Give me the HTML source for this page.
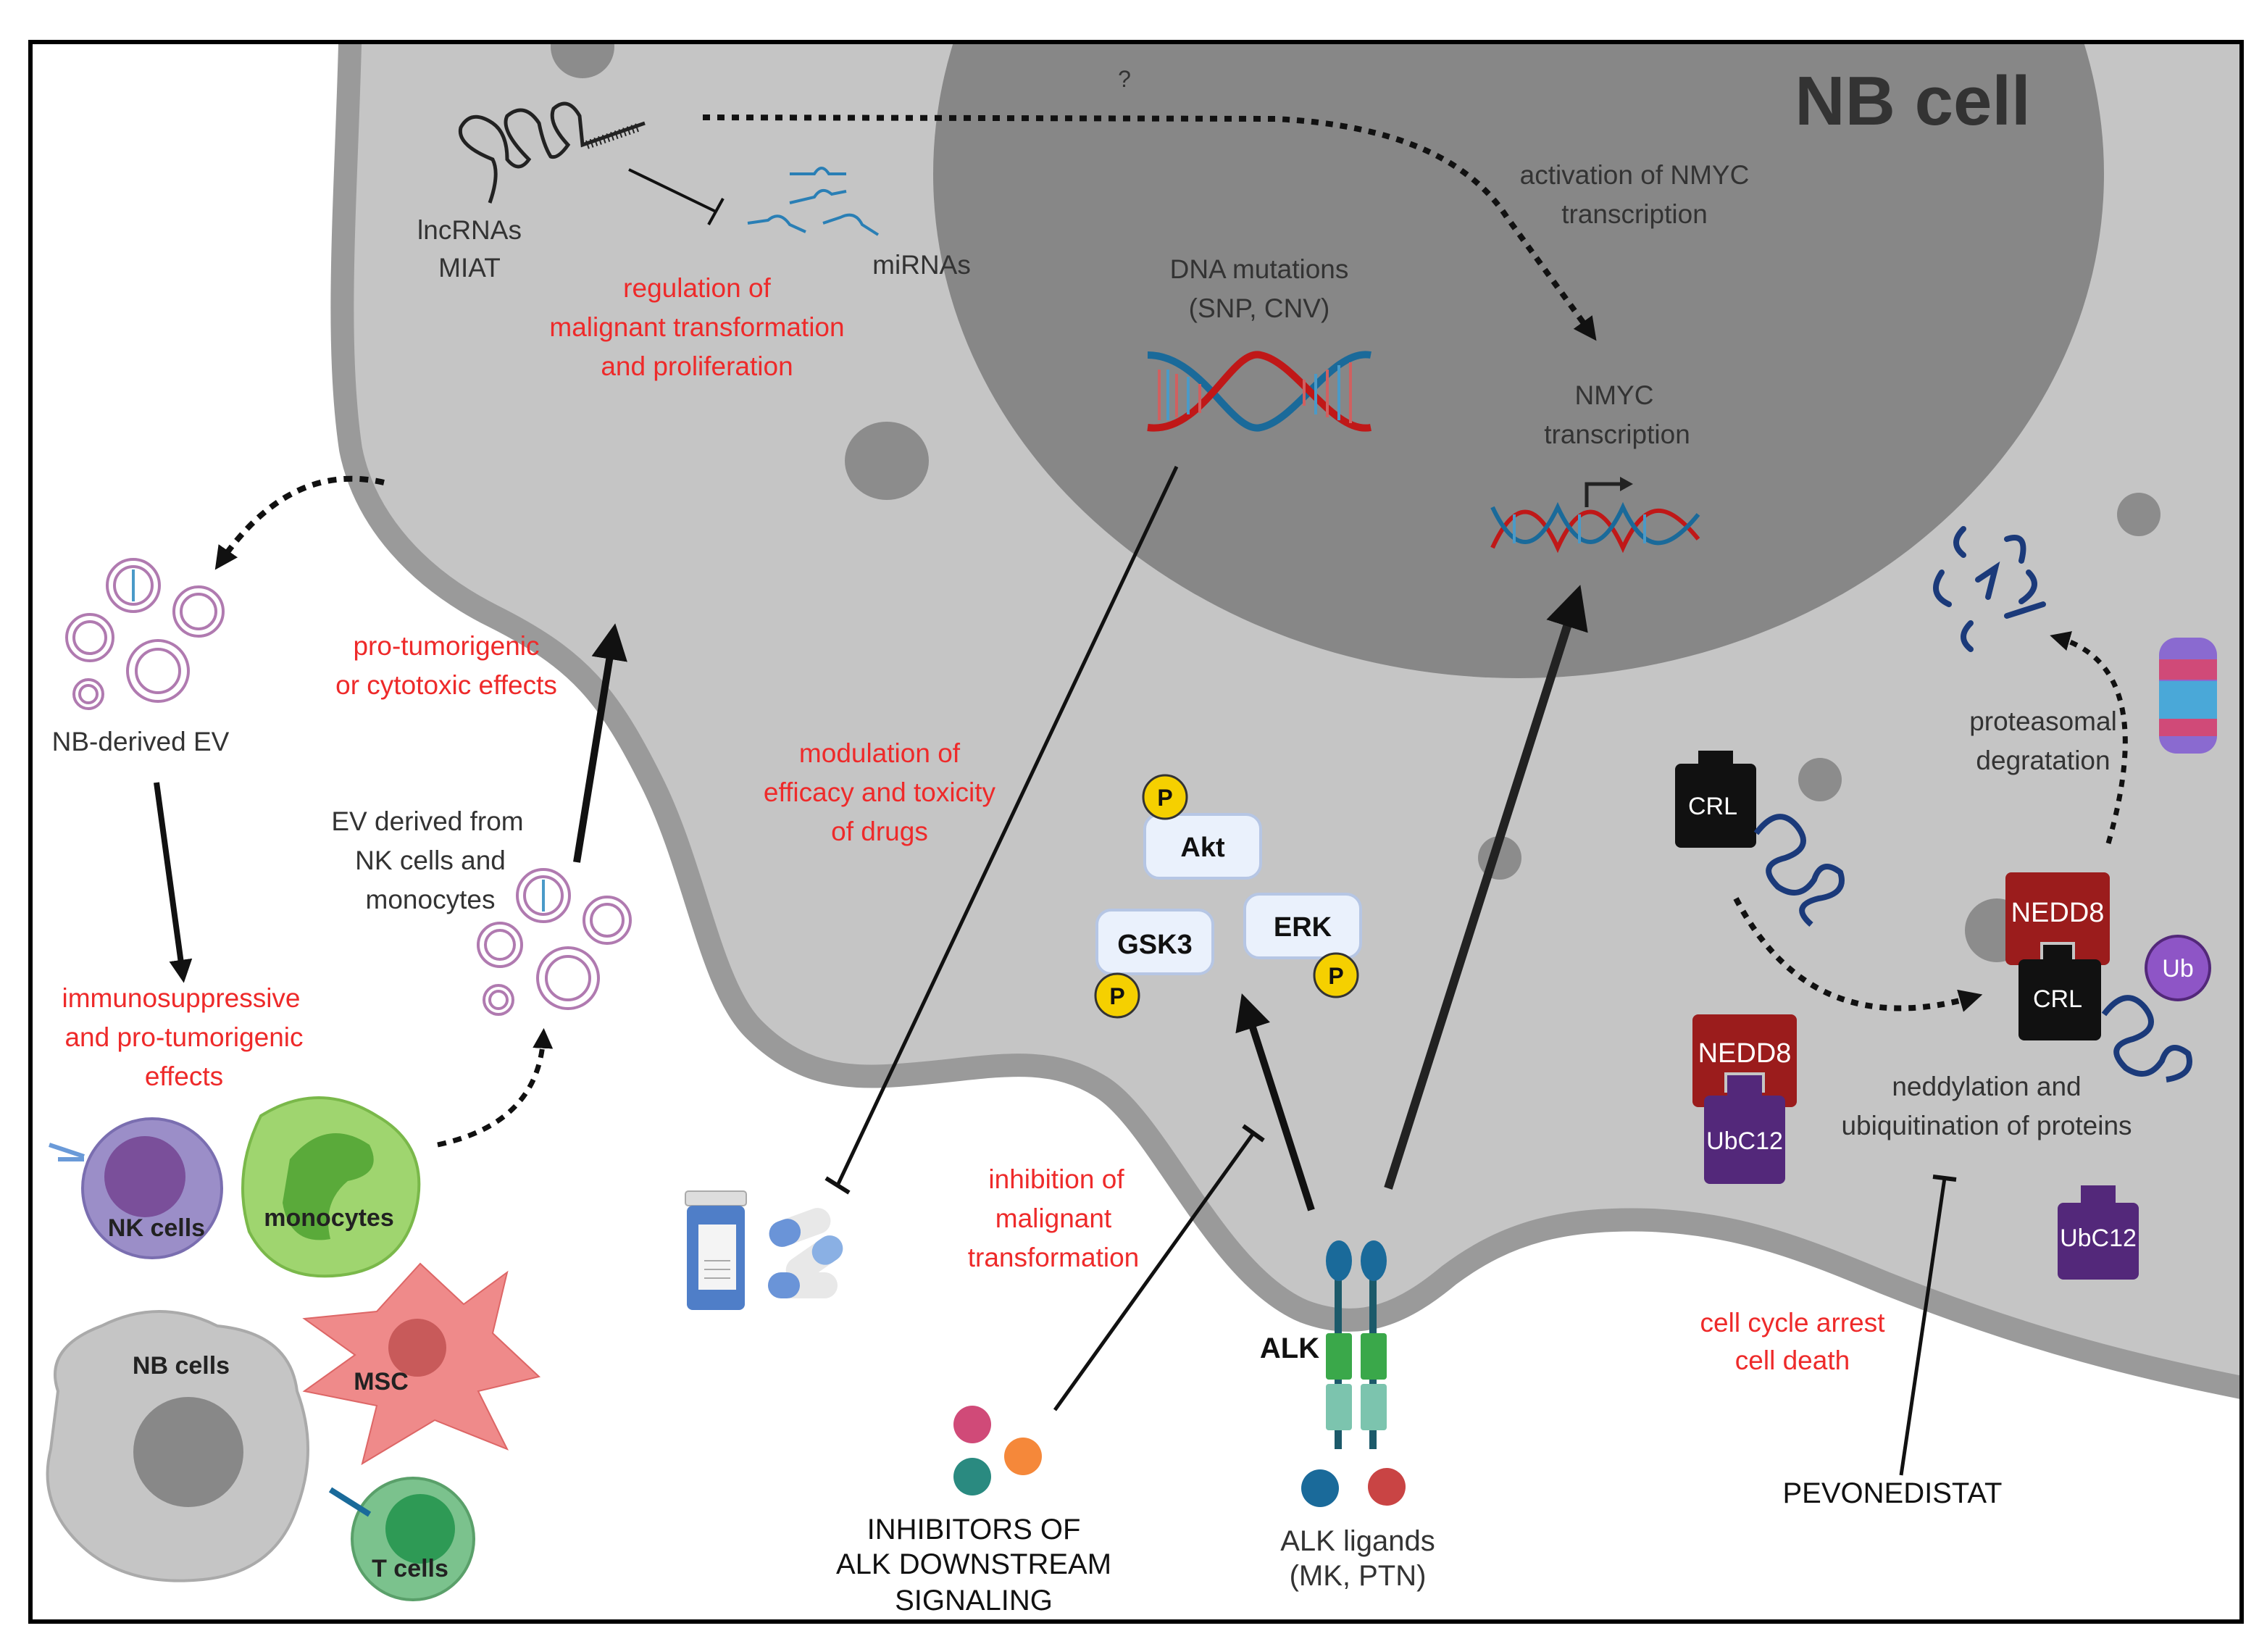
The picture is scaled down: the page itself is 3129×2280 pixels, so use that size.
<!DOCTYPE html>
<html><head><meta charset="utf-8"><style>
html,body{margin:0;padding:0;background:#fff;}
svg{display:block;}
text{font-family:"Liberation Sans",sans-serif;}
</style></head><body>
<svg width="3129" height="2280" viewBox="0 0 1564.5 1140" xmlns="http://www.w3.org/2000/svg">
<defs>
<clipPath id="fr"><rect x="21" y="29" width="1526" height="1090"/></clipPath>
<marker id="ah" viewBox="0 0 10 10" refX="6" refY="5" markerWidth="4" markerHeight="4" orient="auto"><path d="M0,0 L10,5 L0,10 z" fill="#111"/></marker>
<marker id="ahs" viewBox="0 0 10 10" refX="6" refY="5" markerWidth="5" markerHeight="5" orient="auto"><path d="M0,0 L10,5 L0,10 z" fill="#111"/></marker>
</defs>
<rect width="1564.5" height="1140" fill="#fff"/>
<g clip-path="url(#fr)">
<path d="M242,10 C240,120 230,230 242,310 C252,360 290,400 340,425 C400,455 420,480 450,540 C480,600 490,680 520,710 C550,740 580,745 620,742 C680,738 720,725 760,750 C800,775 840,880 900,905 C940,920 970,905 1000,880 C1040,850 1080,840 1140,842 C1200,845 1240,860 1300,885 C1400,925 1480,945 1570,962 L1570,10 Z" fill="#c5c5c5" stroke="#9a9a9a" stroke-width="16"/>
<ellipse cx="1048" cy="120" rx="404" ry="348" fill="#878787"/>
<circle cx="402" cy="32" r="22" fill="#8c8c8c"/>
<ellipse cx="612" cy="318" rx="29" ry="27" fill="#8c8c8c"/>
<circle cx="1476" cy="355" r="15" fill="#8c8c8c"/>
<circle cx="1256" cy="538" r="15" fill="#8c8c8c"/>
<circle cx="1035" cy="592" r="15" fill="#8c8c8c"/>
<circle cx="1378" cy="642" r="22" fill="#8c8c8c"/>
</g>
<rect x="21" y="29" width="1526" height="1090" fill="none" stroke="#000" stroke-width="3"/>

<text x="1320" y="86" font-size="48" font-weight="bold" fill="#333" text-anchor="middle">NB cell</text>
<text x="776" y="60" font-size="16" fill="#333" text-anchor="middle">?</text>

<g font-size="18.5" fill="#333" text-anchor="middle">
<text x="1128" y="127">activation of NMYC</text>
<text x="1128" y="154">transcription</text>
<text x="324" y="165">lncRNAs</text>
<text x="324" y="191">MIAT</text>
<text x="636" y="189">miRNAs</text>
<text x="869" y="192">DNA mutations</text>
<text x="869" y="219">(SNP, CNV)</text>
<text x="1114" y="279">NMYC</text>
<text x="1116" y="306">transcription</text>
<text x="97" y="518">NB-derived EV</text>
<text x="295" y="573">EV derived from</text>
<text x="297" y="600">NK cells and</text>
<text x="297" y="627">monocytes</text>
<text x="1410" y="504">proteasomal</text>
<text x="1410" y="531">degratation</text>
<text x="1371" y="756">neddylation and</text>
<text x="1371" y="783">ubiquitination of proteins</text>
<text x="937" y="1070" font-size="20">ALK ligands</text>
<text x="937" y="1094" font-size="20">(MK, PTN)</text>
</g>
<g font-size="20" fill="#111" text-anchor="middle">
<text x="1306" y="1037">PEVONEDISTAT</text>
<text x="672" y="1062">INHIBITORS OF</text>
<text x="672" y="1086">ALK DOWNSTREAM</text>
<text x="672" y="1111">SIGNALING</text>
</g>
<text x="890" y="937" font-size="20" font-weight="bold" fill="#111" text-anchor="middle">ALK</text>
<g font-size="18.5" fill="#ee2a2a" text-anchor="middle">
<text x="481" y="205">regulation of</text>
<text x="481" y="232">malignant transformation</text>
<text x="481" y="259">and proliferation</text>
<text x="308" y="452">pro-tumorigenic</text>
<text x="308" y="479">or cytotoxic effects</text>
<text x="607" y="526">modulation of</text>
<text x="607" y="553">efficacy and toxicity</text>
<text x="607" y="580">of drugs</text>
<text x="125" y="695">immunosuppressive</text>
<text x="127" y="722">and pro-tumorigenic</text>
<text x="127" y="749">effects</text>
<text x="729" y="820">inhibition of</text>
<text x="727" y="847">malignant</text>
<text x="727" y="874">transformation</text>
<text x="1237" y="919">cell cycle arrest</text>
<text x="1237" y="945">cell death</text>
</g>

<g fill="none" stroke="#111">
<path d="M485,81 L880,82 Q1000,88 1040,150 L1098,230" stroke-width="4" stroke-dasharray="5,5" marker-end="url(#ah)"/>
<path d="M434,117 L494,146" stroke-width="2"/><path d="M489,155 L499,137" stroke-width="2"/>
<path d="M265,333 Q200,318 152,388" stroke-width="4" stroke-dasharray="6,5" marker-end="url(#ah)"/>
<path d="M108,540 L126,672" stroke-width="4" marker-end="url(#ah)"/>
<path d="M302,790 Q372,775 375,715" stroke-width="3.5" stroke-dasharray="6,5" marker-end="url(#ah)"/>
<path d="M398,595 L423,440" stroke-width="5" marker-end="url(#ahs)"/>
<path d="M812,322 L578,818" stroke-width="2.5"/><path d="M570,813 L586,823" stroke-width="3"/>
<path d="M905,835 L860,695" stroke-width="5" marker-end="url(#ahs)"/>
<path d="M728,973 L865,782" stroke-width="2.5"/><path d="M858,777 L872,787" stroke-width="3"/>
<path d="M958,820 L1087,415" stroke-width="6" stroke="#222" marker-end="url(#ahs)"/>
<path d="M1198,620 Q1250,720 1362,688" stroke-width="4" stroke-dasharray="5,5" marker-end="url(#ah)"/>
<path d="M1455,582 Q1490,460 1420,440" stroke-width="3.5" stroke-dasharray="5,5" marker-end="url(#ah)"/>
<path d="M1312,1018 L1342,813" stroke-width="2.5"/><path d="M1334,812 L1350,814" stroke-width="3"/>
</g>

<g fill="none" stroke="#222" stroke-width="2.5">
<path d="M338,140 Q345,120 340,110 Q315,100 318,88 Q325,75 340,85 Q350,92 350,110 Q358,120 365,110 Q345,90 350,80 Q362,70 372,85 Q375,100 380,108 Q385,110 392,100 Q378,85 382,75 Q392,66 400,80 L402,100 L445,85"/>
<path d="M405,100 L440,88" stroke-dasharray="1,2" stroke-width="6"/>
</g>
<g fill="none" stroke="#2a7fb5" stroke-width="2">
<path d="M545,120 L562,120 Q567,112 572,120 L584,120"/>
<path d="M545,140 L562,136 Q567,128 574,134 L584,132"/>
<path d="M516,154 L530,152 Q538,145 545,155 L556,160"/>
<path d="M568,154 L580,150 Q590,145 595,155 L606,162"/>
</g>

<g fill="none" stroke-width="5">
<path d="M792,245 C830,245 850,300 870,295 C895,290 920,240 946,245" stroke="#1a6a9a"/>
<path d="M792,295 C830,300 850,240 870,245 C895,250 920,300 946,295" stroke="#c01818"/>
<path d="M1030,378 C1045,345 1060,345 1075,378 C1090,345 1105,345 1120,378 C1135,345 1150,345 1172,372" stroke="#c01818" stroke-width="3"/>
<path d="M1030,350 C1045,382 1060,382 1075,350 C1090,382 1105,382 1120,350 C1135,382 1150,382 1172,355" stroke="#1a6a9a" stroke-width="3"/>
</g>
<g stroke="#d06060" stroke-width="2"><path d="M800,255 V290 M812,258 V288 M828,265 V285 M900,262 V280 M916,255 V288 M932,250 V292"/></g>
<g stroke="#4a9ac8" stroke-width="2"><path d="M806,255 V290 M820,260 V286 M908,258 V286 M924,252 V290 M1045,355 V375 M1090,355 V375 M1135,355 V375"/></g>
<path d="M1095,350 V334 H1120" fill="none" stroke="#222" stroke-width="2.5"/><path d="M1118,329 L1127,334 L1118,339z" fill="#222"/>

<g stroke="#b6c6e4" stroke-width="2" fill="#eaf1fc">
<rect x="790" y="562" width="80" height="44" rx="10"/>
<rect x="757" y="628" width="80" height="44" rx="10"/>
<rect x="859" y="617" width="80" height="44" rx="10"/>
</g>
<g font-size="19" font-weight="bold" fill="#111" text-anchor="middle">
<text x="830" y="591">Akt</text><text x="797" y="658">GSK3</text><text x="899" y="646">ERK</text>
</g>
<g fill="#f5d000" stroke="#333" stroke-width="1.5">
<circle cx="804" cy="550" r="15"/><circle cx="771" cy="687" r="15"/><circle cx="922" cy="673" r="15"/>
</g>
<g font-size="16" font-weight="bold" fill="#111" text-anchor="middle">
<text x="804" y="556">P</text><text x="771" y="693">P</text><text x="922" y="679">P</text>
</g>

<rect x="1172" y="518" width="24" height="10" fill="#111"/>
<rect x="1156" y="527" width="56" height="58" rx="4" fill="#111"/>
<text x="1182" y="562" font-size="17" fill="#fff" text-anchor="middle">CRL</text>
<path d="M1212,575 q15,-20 28,-5 q12,15 -8,22 q-20,5 -5,20 q15,10 25,-5 q5,-15 18,-5 q5,15 -15,18 q-20,5 -5,18" fill="none" stroke="#1b3a7a" stroke-width="4"/>
<rect x="1384" y="602" width="72" height="64" rx="4" fill="#9b1c1c"/>
<text x="1420" y="636" font-size="19" fill="#fff" text-anchor="middle">NEDD8</text>
<rect x="1408" y="650" width="24" height="12" fill="#c5c5c5"/>
<rect x="1410" y="652" width="20" height="10" fill="#111"/>
<rect x="1393" y="662" width="57" height="56" rx="4" fill="#111"/>
<text x="1420" y="695" font-size="17" fill="#fff" text-anchor="middle">CRL</text>
<path d="M1452,700 q15,-20 28,-5 q12,15 -8,22 q-20,5 -5,20 q15,10 25,-5 q5,-15 18,-5 q5,15 -15,18" fill="none" stroke="#1b3a7a" stroke-width="4"/>
<circle cx="1503" cy="668" r="22" fill="#8e55c6" stroke="#53287a" stroke-width="2"/>
<text x="1503" y="674" font-size="17" fill="#fff" text-anchor="middle">Ub</text>
<rect x="1168" y="700" width="72" height="64" rx="4" fill="#9b1c1c"/>
<text x="1204" y="733" font-size="19" fill="#fff" text-anchor="middle">NEDD8</text>
<rect x="1190" y="740" width="28" height="14" fill="#c5c5c5"/>
<rect x="1192" y="742" width="24" height="14" fill="#53287a"/>
<rect x="1176" y="756" width="56" height="61" rx="4" fill="#53287a"/>
<text x="1204" y="793" font-size="17" fill="#fff" text-anchor="middle">UbC12</text>
<rect x="1436" y="818" width="24" height="14" fill="#53287a"/>
<rect x="1420" y="830" width="56" height="53" rx="4" fill="#53287a"/>
<text x="1448" y="860" font-size="17" fill="#fff" text-anchor="middle">UbC12</text>

<g>
<rect x="1490" y="440" width="40" height="80" rx="12" fill="#8a6ad0"/>
<rect x="1490" y="455" width="40" height="14" fill="#d04a78"/>
<rect x="1490" y="470" width="40" height="26" fill="#4aa8d8"/>
<rect x="1490" y="496" width="40" height="12" fill="#d04a78"/>
</g>
<g fill="none" stroke="#1b3a7a" stroke-width="4" stroke-linecap="round">
<path d="M1355,365 q-10,10 0,18"/><path d="M1340,395 q-10,15 5,22"/><path d="M1365,400 l12,-8 l-5,20"/>
<path d="M1385,372 q15,-5 10,15"/><path d="M1400,395 q10,10 -5,20"/><path d="M1360,430 q-10,10 0,18"/><path d="M1385,425 l25,-8"/>
</g>

<g>
<rect x="921" y="860" width="5" height="140" fill="#1c5a6a"/>
<rect x="945" y="860" width="5" height="140" fill="#1c5a6a"/>
<ellipse cx="924" cy="870" rx="9" ry="14" fill="#1a6a9a"/>
<ellipse cx="948" cy="870" rx="9" ry="14" fill="#1a6a9a"/>
<rect x="915" y="920" width="18" height="32" rx="2" fill="#3aa84a"/>
<rect x="939" y="920" width="18" height="32" rx="2" fill="#3aa84a"/>
<rect x="915" y="955" width="18" height="32" rx="2" fill="#7cc4ae"/>
<rect x="939" y="955" width="18" height="32" rx="2" fill="#7cc4ae"/>
</g>
<circle cx="911" cy="1027" r="13" fill="#1a6a9a"/>
<circle cx="957" cy="1026" r="13" fill="#c94444"/>
<circle cx="671" cy="983" r="13" fill="#d04a78"/>
<circle cx="706" cy="1005" r="13" fill="#f5883a"/>
<circle cx="671" cy="1019" r="13" fill="#2a8a80"/>

<rect x="473" y="822" width="42" height="10" rx="2" fill="#ddd" stroke="#aaa"/>
<rect x="474" y="832" width="40" height="72" rx="4" fill="#4f7ec8"/>
<rect x="482" y="845" width="26" height="45" fill="#f4f4f4"/>
<g stroke="#aaa" stroke-width="1"><path d="M486,870 h18 M486,876 h18 M486,882 h18"/></g>
<g>
<rect x="530" y="838" width="44" height="18" rx="9" fill="#e8e8e8" transform="rotate(-20 552 847)"/>
<rect x="530" y="838" width="22" height="18" rx="9" fill="#6a94d8" transform="rotate(-20 552 847)"/>
<rect x="540" y="860" width="44" height="18" rx="9" fill="#e8e8e8" transform="rotate(-35 562 869)"/>
<rect x="562" y="860" width="22" height="18" rx="9" fill="#8ab0e4" transform="rotate(-35 562 869)"/>
<rect x="530" y="878" width="48" height="18" rx="9" fill="#e8e8e8"/>
<rect x="530" y="878" width="22" height="18" rx="9" fill="#6a94d8"/>
</g>

<g fill="none" stroke="#b07ab0" stroke-width="2">
<circle cx="92" cy="404" r="18"/><circle cx="92" cy="404" r="13"/>
<circle cx="137" cy="422" r="17"/><circle cx="137" cy="422" r="12"/>
<circle cx="62" cy="440" r="16"/><circle cx="62" cy="440" r="11"/>
<circle cx="109" cy="463" r="21"/><circle cx="109" cy="463" r="15"/>
<circle cx="61" cy="479" r="10"/><circle cx="61" cy="479" r="6"/>
<circle cx="375" cy="618" r="18"/><circle cx="375" cy="618" r="13"/>
<circle cx="419" cy="635" r="16"/><circle cx="419" cy="635" r="11"/>
<circle cx="345" cy="652" r="15"/><circle cx="345" cy="652" r="10"/>
<circle cx="392" cy="675" r="21"/><circle cx="392" cy="675" r="15"/>
<circle cx="344" cy="690" r="10"/><circle cx="344" cy="690" r="6"/>
</g>
<path d="M92,393 V415 M375,607 V629" stroke="#4a9ac8" stroke-width="2"/>

<path d="M40,960 Q30,930 70,915 Q110,895 150,915 Q200,920 205,960 Q220,1000 205,1040 Q190,1085 140,1090 Q90,1095 60,1070 Q25,1040 35,1000 Z" fill="#c5c5c5" stroke="#aaa" stroke-width="2"/>
<circle cx="130" cy="1002" r="38" fill="#888"/>
<text x="125" y="948" font-size="17" font-weight="bold" fill="#222" text-anchor="middle">NB cells</text>
<path d="M290,872 L320,900 L350,878 L340,920 L372,950 L330,960 L350,1000 L300,980 L250,1010 L260,970 L210,960 L245,935 L210,910 L260,905 Z" fill="#ef8a8a" stroke="#d66" stroke-width="1"/>
<circle cx="288" cy="930" r="20" fill="#c85a5a"/>
<text x="263" y="959" font-size="17" font-weight="bold" fill="#222" text-anchor="middle">MSC</text>
<circle cx="285" cy="1062" r="42" fill="#7bc28d" stroke="#5aa06a" stroke-width="2"/>
<circle cx="290" cy="1055" r="24" fill="#2e9a55"/>
<path d="M228,1028 L255,1045" stroke="#1a6a9a" stroke-width="4"/>
<text x="283" y="1088" font-size="17" font-weight="bold" fill="#222" text-anchor="middle">T cells</text>
<circle cx="105" cy="820" r="48" fill="#9b8ec8" stroke="#7a6eb0" stroke-width="2"/>
<circle cx="100" cy="812" r="28" fill="#7a4f9a"/>
<path d="M34,790 L58,798 M40,800 L58,800" stroke="#6a9ad8" stroke-width="3"/>
<text x="108" y="853" font-size="17" font-weight="bold" fill="#222" text-anchor="middle">NK cells</text>
<path d="M180,770 Q220,745 260,770 Q295,790 288,830 Q280,875 235,880 Q190,885 172,850 Q160,810 180,770 Z" fill="#9fd56f" stroke="#7ab84a" stroke-width="2"/>
<path d="M200,800 Q225,770 255,790 Q265,810 240,815 Q222,830 228,855 Q200,860 195,830 Z" fill="#5aaa3a"/>
<text x="227" y="846" font-size="17" font-weight="bold" fill="#222" text-anchor="middle">monocytes</text>
</svg>
</body></html>
